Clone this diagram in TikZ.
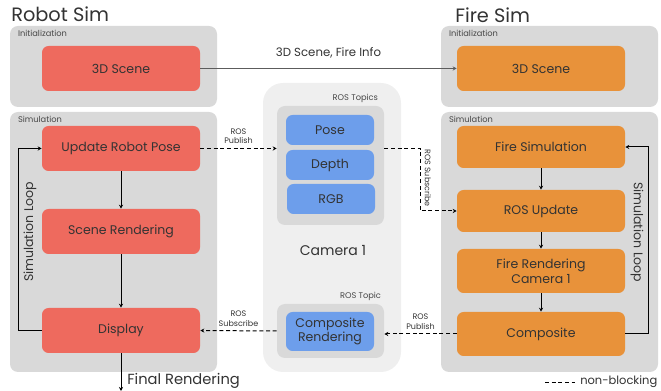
\documentclass[tikz,border=0pt]{standalone}
\usepackage{fontspec}
\setmainfont{Poppins}
\usetikzlibrary{arrows.meta, positioning, fit}

\definecolor{robotred}{HTML}{EE6A5E}
\definecolor{fireorange}{HTML}{E8923A}
\definecolor{topicblue}{HTML}{6D9EEB}
\definecolor{panelgray}{HTML}{D9D9D9}
\definecolor{campanel}{HTML}{EFEFEF}
\definecolor{inkgray}{HTML}{333333}

\begin{document}
\begin{tikzpicture}[x=0.75pt, y=-0.75pt,
    panel/.style={rectangle, rounded corners=6pt, fill=panelgray, inner sep=0pt},
    stagebox/.style={rectangle, rounded corners=5pt, align=center,
      font=\fontsize{9.4}{11}\selectfont, text=inkgray, inner sep=2pt},
    robotbox/.style={stagebox, fill=robotred, minimum width=118.5pt, minimum height=33.75pt},
    firebox/.style={stagebox, fill=fireorange, minimum width=126pt, minimum height=32.25pt},
    topicbox/.style={stagebox, fill=topicblue, minimum width=66pt, minimum height=22.5pt},
    sublabel/.style={font=\fontsize{6.2}{7}\selectfont, text=inkgray!90, inner sep=0pt},
    rostext/.style={font=\fontsize{6}{7.2}\selectfont, text=inkgray, align=center, inner sep=1pt},
    title/.style={font=\fontsize{14.5}{16}\selectfont, text=inkgray, inner sep=0pt},
    looptext/.style={font=\fontsize{9.4}{10}\selectfont, text=inkgray, inner sep=0pt},
    arr/.style={-{Stealth[length=3pt, width=3pt]}, line width=0.75pt, black},
    dasharr/.style={arr, dash pattern=on 3pt off 2pt}
  ]
    \useasboundingbox (0,0) rectangle (661,391);

    % panels
    \node[panel, fit={(10,26) (217,107)}] (rinit) {};
    \node[panel, fit={(10,112) (217,372)}] (rsim) {};
    \node[panel, fit={(441,26) (658,107)}] (finit) {};
    \node[panel, fit={(441,112) (658,372)}] (fsim) {};
    \node[panel, fill=campanel, rounded corners=15pt, fit={(263,83) (401,372)}] (cam) {};
    \node[panel, fit={(277,106) (384,225)}] (topics) {};
    \node[panel, fit={(277,304) (384,358)}] (comptopic) {};

    \node[title, anchor=west] (rtitle) at (11,14) {Robot Sim};
    \node[title, anchor=west] (ftitle) at (455,15) {Fire Sim};
    \foreach \p/\t in {rinit/Initialization, rsim/Simulation, finit/Initialization, fsim/Simulation}
      \node[sublabel, anchor=north west] at ([shift={(8,4)}]\p.north west) {\t};
    \node[sublabel, anchor=south east] at ([shift={(-6,-3)}]topics.north east) {ROS Topics};
    \node[sublabel, anchor=south east] at ([shift={(-3,-3)}]comptopic.north east) {ROS Topic};

    % robot sim
    \node[robotbox] (rscene) at (121,68.5) {3D Scene};
    \node[robotbox] (rpose) at (121,148.5) {Update Robot Pose};
    \node[robotbox] (rrender) at (121,231.5) {Scene Rendering};
    \node[robotbox] (rdisplay) at (121,330.5) {Display};

    % fire sim
    \node[firebox, minimum height=33.75pt] (fscene) at (541,68.5) {3D Scene};
    \node[firebox, minimum height=31.5pt] (ffire) at (541,147) {Fire Simulation};
    \node[firebox, minimum height=31.5pt] (fupdate) at (541,211) {ROS Update};
    \node[firebox, minimum height=33pt, font=\fontsize{9.4}{11}\selectfont] (frender) at (541,271) {Fire Rendering\\Camera 1};
    \node[firebox, minimum height=33pt] (fcomp) at (541,334) {Composite};

    % ros topics
    \node[topicbox] (pose) at (330,130) {Pose};
    \node[topicbox] (depth) at (330,165) {Depth};
    \node[topicbox] (rgb) at (331,199) {RGB};
    \node[topicbox, minimum height=29.25pt, font=\fontsize{9.4}{11}\selectfont] (comprender) at (330,331.5) {Composite\\Rendering};
    \node[font=\fontsize{10.5}{12}\selectfont, text=inkgray] (camname) at (333,251) {Camera 1};

    % solid flow
    \draw[arr, inkgray!80] (rscene) -- node[above=7pt, font=\fontsize{8.8}{10}\selectfont, text=inkgray, inner sep=0pt] {3D Scene, Fire Info} (fscene);
    \draw[arr] (rpose) -- (rrender);
    \draw[arr] (rrender) -- (rdisplay);
    \draw[arr] (rdisplay.west) -- ++(-23,0) |- (rpose.west);
    \node[looptext, rotate=90] at (30,232) {Simulation Loop};
    \coordinate (final) at (121,391);
    \draw[arr] (rdisplay) -- (final);
    \node[font=\fontsize{11}{12}\selectfont, text=inkgray, anchor=west, inner sep=0pt] at (127,381) {Final Rendering};

    \draw[arr] (ffire) -- (fupdate);
    \draw[arr] (fupdate) -- (frender);
    \draw[arr] (frender) -- (fcomp);
    \draw[arr] (fcomp.east) -- ++(23,0) |- (ffire.east);
    \node[looptext, rotate=-90] at (637,232) {Simulation Loop};

    % ros links
    \draw[dasharr] (rpose.east) -- node[rostext, above=2pt] {ROS\\Publish} (rpose.east -| topics.west);
    \draw[dasharr] (rpose.east -| topics.east) -- ++(36,0) |- (fupdate.west);
    \node[rostext, rotate=-90] at (428,178) {ROS Subscribe};
    \draw[dasharr] (fcomp.west) -- node[rostext, above=2pt] {ROS\\Publish} (fcomp.west -| comptopic.east);
    \draw[dasharr] (comptopic.west) -- node[rostext, above=2pt] {ROS\\Subscribe} (rdisplay.east);

    % legend
    \coordinate (lega) at (545,383);
    \coordinate (legb) at (575,383);
    \draw[line width=0.75pt, dash pattern=on 3pt off 2pt] (lega) -- (legb);
    \node[font=\fontsize{8.6}{9}\selectfont, text=inkgray, anchor=west, inner sep=0pt] at (580,382) {non-blocking};
  \end{tikzpicture}
\end{document}
